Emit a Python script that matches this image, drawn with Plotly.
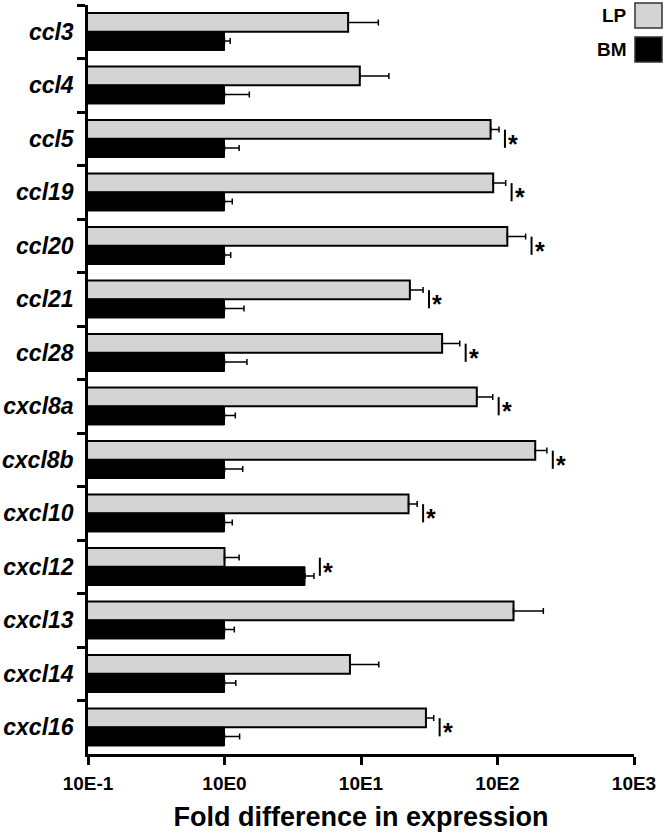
import math
import plotly.graph_objects as go

categories = ["ccl3", "ccl4", "ccl5", "ccl19", "ccl20", "ccl21", "ccl28",
              "cxcl8a", "cxcl8b", "cxcl10", "cxcl12", "cxcl13", "cxcl14", "cxcl16"]
lp_values = [8.05, 9.8, 89, 93, 118, 22.8, 39.3, 70.5, 189, 22.3, 1.0, 131, 8.3, 29.9]
lp_errors = [5.35, 6.2, 13.6, 21.8, 42.7, 5.7, 13.6, 21.8, 41, 3.5, 0.28, 85.7, 5.2, 4.2]
bm_values = [1, 1, 1, 1, 1, 1, 1, 1, 1, 1, 3.89, 1, 1, 1]
bm_errors = [0.10, 0.52, 0.28, 0.14, 0.11, 0.39, 0.46, 0.20, 0.36, 0.14, 0.63, 0.18, 0.21, 0.29]
significant = [False, False, True, True, True, True, True, True, True, True, True, False, False, True]
tick_values = [0.1, 1, 10, 100, 1000]
tick_labels = ["10E-1", "10E0", "10E1", "10E2", "10E3"]

FONT = "Liberation Sans, Arial, sans-serif"
GRAY = "#d4d4d4"

fig = go.Figure()
fig.add_trace(go.Bar(
    name="LP", y=categories, x=lp_values, orientation="h",
    marker=dict(color=GRAY, line=dict(color="black", width=2)),
    error_x=dict(type="data", array=lp_errors, arrayminus=[0] * len(lp_errors),
                 symmetric=False, color="black", thickness=1.5, width=3),
))
fig.add_trace(go.Bar(
    name="BM", y=categories, x=bm_values, orientation="h",
    marker=dict(color="black", line=dict(color="black", width=1)),
    error_x=dict(type="data", array=bm_errors, arrayminus=[0] * len(bm_errors),
                 symmetric=False, color="black", thickness=1.5, width=3),
))

# significance markers "|*"
shapes = []
annotations = []
for i, sig in enumerate(significant):
    if not sig:
        continue
    anchor = max(lp_values[i] + lp_errors[i], bm_values[i] + bm_errors[i])
    px = anchor * 1.105
    shapes.append(dict(type="line", xref="x", yref="y", x0=px, x1=px,
                       y0=i - 0.17, y1=i + 0.17, line=dict(color="black", width=2)))
    annotations.append(dict(x=math.log10(px), y=i, xref="x", yref="y", text="<b>*</b>",
                            showarrow=False, xanchor="left", yanchor="middle",
                            xshift=1, yshift=-5,
                            font=dict(family=FONT, size=25, color="black")))

# legend (text left of box); plot area spans x 88..634, y 5..754 px
legend_items = [("LP", GRAY, 1.0027, 0.9693), ("BM", "black", 0.9573, 0.9239)]
for name, col, ytop, ybot in legend_items:
    shapes.append(dict(type="rect", xref="paper", yref="paper", x0=1.0018, x1=1.0513,
                       y0=ybot, y1=ytop, fillcolor=col,
                       line=dict(color="#333333", width=1.5)))
    annotations.append(dict(x=0.99, y=(ytop + ybot) / 2, xref="paper", yref="paper",
                            text=name, showarrow=False, xanchor="right", yanchor="middle",
                            font=dict(family=FONT, size=19, color="black", weight="bold")))

fig.update_layout(
    width=667, height=836,
    margin=dict(l=88, r=33, t=5, b=82, autoexpand=False),
    paper_bgcolor="white", plot_bgcolor="white",
    barmode="group", bargap=0.3, bargroupgap=0,
    showlegend=False, hovermode=False,
    shapes=shapes, annotations=annotations,
    font=dict(family=FONT, color="black"),
)
fig.update_xaxes(
    type="log", range=[-1, 3], automargin=False,
    tickvals=tick_values, ticktext=tick_labels,
    tickfont=dict(family=FONT, size=19, weight="bold", color="black"),
    ticks="outside", ticklen=8, tickwidth=2.5, tickcolor="black",
    ticklabelstandoff=2,
    showline=True, linewidth=2.5, linecolor="black",
    showgrid=False, zeroline=False,
    title=dict(text="Fold difference in expression", standoff=15,
               font=dict(family=FONT, size=27, weight="bold", color="black")),
)
fig.update_yaxes(
    type="category", categoryorder="array", categoryarray=categories,
    range=[13.5, -0.5], automargin=False,
    tickfont=dict(family=FONT, size=23, weight="bold", style="italic", color="black"),
    ticks="outside", tickson="boundaries", ticklen=8, tickwidth=2.5, tickcolor="black",
    ticklabelstandoff=7,
    showline=True, linewidth=2.5, linecolor="black",
    showgrid=False, zeroline=False,
)

fig.write_html("out.html", config={"displayModeBar": False},
               post_script="document.body.style.margin='0';document.body.style.overflow='hidden';")
